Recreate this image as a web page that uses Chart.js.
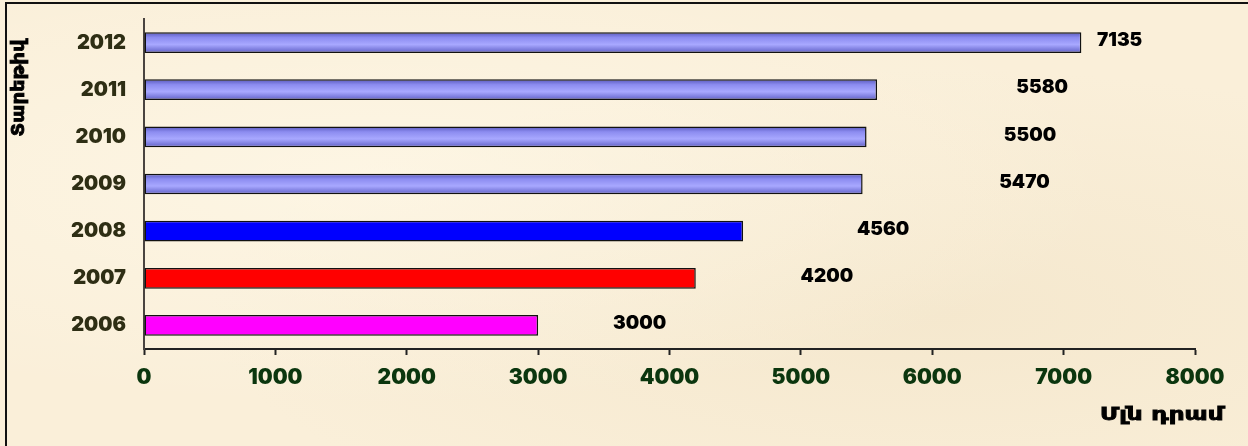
<!DOCTYPE html>
<html>
<head>
<meta charset="utf-8">
<script src="https://cdn.jsdelivr.net/npm/chart.js@4"></script>
<style>
  html, body { margin: 0; padding: 0; }
  body {
    width: 1248px; height: 446px; overflow: hidden;
    background: #faefd9;
    background-image:
      radial-gradient(ellipse at 30% 40%, rgba(255,250,235,0.6), rgba(255,250,235,0) 60%),
      radial-gradient(ellipse at 75% 70%, rgba(240,225,195,0.5), rgba(240,225,195,0) 55%);
    position: relative;
  }
  #frame {
    position: absolute; left: 5px; top: 2px; width: 1250px; height: 450px;
    border-left: 2px solid #111; border-top: 2px solid #111;
  }
  #chart { position: absolute; left: 0; top: 0; }
</style>
</head>
<body>
<div id="frame"></div>
<canvas id="chart" width="1248" height="446"></canvas>
<script>
const years = ['2006', '2007', '2008', '2009', '2010', '2011', '2012'];
const amounts = [3000, 4200, 4560, 5470, 5500, 5580, 7135];
const xTicks = [0, 1000, 2000, 3000, 4000, 5000, 6000, 7000, 8000];
const yTitle = 'Տարեթիվ';
const xTitle = 'Մլն դրամ';

// bar colours, later years get the shaded periwinkle
const barColors = ['#ff00ff', '#ff0000', '#0000ff', null, null, null, null];

const FONT = '"DejaVu Sans", sans-serif';
const NUMFONT = 'Inter, "DejaVu Sans", sans-serif';

function barFill(c) {
  const flat = barColors[c.dataIndex];
  if (flat) return flat;
  const chart = c.chart;
  if (!chart.chartArea || !chart.scales.y) return '#9999ff';
  const y = chart.scales.y.getPixelForValue(c.dataIndex);
  const g = chart.ctx.createLinearGradient(0, y - 10, 0, y + 10);
  g.addColorStop(0, '#5c5cc0');
  g.addColorStop(0.25, '#8c8cf0');
  g.addColorStop(0.6, '#a8a8ff');
  g.addColorStop(1, '#6262c8');
  return g;
}

// heavier looking text: fill plus a thin stroke
function heavyText(ctx, text, x, y) {
  ctx.fillText(text, x, y);
  ctx.strokeText(text, x, y);
}

const extras = {
  id: 'extras',
  afterDatasetsDraw(chart) {
    const ctx = chart.ctx;
    const xs = chart.scales.x;
    const ys = chart.scales.y;
    ctx.save();
    // value labels, pushed out to the right like the original
    ctx.fillStyle = '#000';
    ctx.strokeStyle = '#000';
    ctx.lineWidth = 0.8;
    ctx.font = '900 19px ' + NUMFONT;
    ctx.textBaseline = 'middle';
    ctx.textAlign = 'left';
    amounts.forEach((v, i) => {
      const x = Math.min(xs.getPixelForValue(v * 1.19), chart.chartArea.right - 98);
      ctx.fillText(String(v), x, ys.getPixelForValue(i) - 2);
    });
    // axis titles, stretched a bit to mimic the wide original face
    ctx.font = 'bold 17px ' + FONT;
    ctx.save();
    ctx.translate(1100, 416);
    ctx.scale(1.45, 1);
    heavyText(ctx, xTitle, 0, 0);
    ctx.restore();
    ctx.translate(20, 88);
    ctx.rotate(-Math.PI / 2);
    ctx.scale(1.15, 1);
    ctx.textAlign = 'center';
    ctx.font = 'bold 17px ' + FONT;
    heavyText(ctx, yTitle, 0, 0);
    ctx.restore();
  }
};

new Chart(document.getElementById('chart'), {
  type: 'bar',
  data: {
    labels: years,
    datasets: [{
      data: amounts,
      backgroundColor: barFill,
      borderColor: '#111',
      borderWidth: 1.5,
      borderSkipped: false,
      barPercentage: 0.44,
      categoryPercentage: 1
    }]
  },
  options: {
    indexAxis: 'y',
    responsive: false,
    animation: false,
    devicePixelRatio: 1,
    layout: { padding: { top: 19, right: 53, left: 0, bottom: 0 } },
    plugins: { legend: { display: false }, tooltip: { enabled: false } },
    scales: {
      x: {
        min: 0,
        max: 8000,
        afterBuildTicks(scale) { scale.ticks = xTicks.map(v => ({ value: v })); },
        afterFit(scale) { scale.height = 97; scale.paddingLeft = 0; scale.paddingRight = 0; },
        border: { color: '#222', width: 2 },
        grid: { drawOnChartArea: false, tickLength: 6, color: '#222', tickWidth: 2 },
        ticks: {
          color: '#0b360e',
          padding: 10,
          maxRotation: 0,
          autoSkip: false,
          callback: v => String(v),
          font: { family: NUMFONT, size: 21, weight: 900 }
        }
      },
      y: {
        reverse: true,
        afterFit(scale) { scale.width = 144; scale.paddingTop = 0; scale.paddingBottom = 0; },
        border: { color: '#4a4440', width: 2 },
        grid: { display: false, drawTicks: false },
        ticks: {
          color: '#2e2e14',
          padding: 18,
          font: { family: NUMFONT, size: 20, weight: 900 }
        }
      }
    }
  },
  plugins: [extras]
});
</script>
</body>
</html>
